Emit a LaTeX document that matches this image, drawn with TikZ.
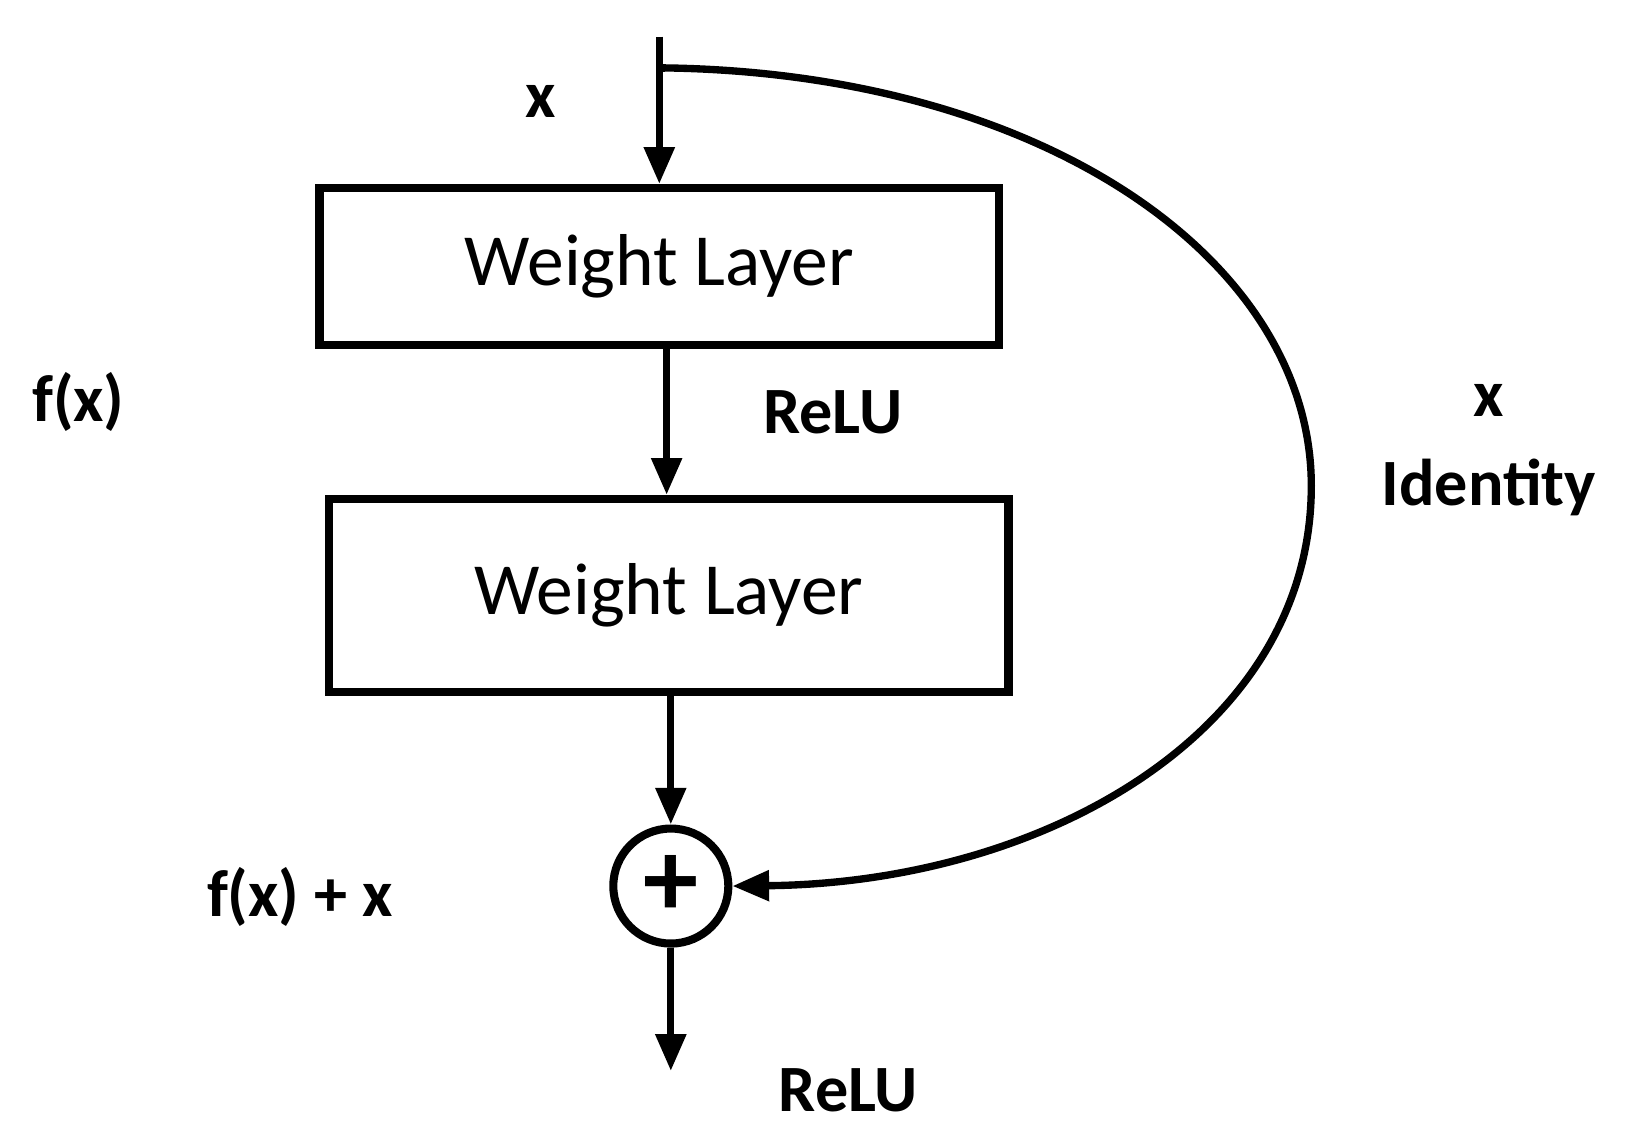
\documentclass[tikz,border=0pt]{standalone}
\usepackage{fontspec}
\setmainfont{Carlito}
\usetikzlibrary{arrows.meta}
\begin{document}
\begin{tikzpicture}[x=0.01cm,y=-0.01cm,
  box/.style={draw,line width=2.2pt,inner sep=0pt,font=\fontsize{20}{24}\selectfont},
  lbl/.style={font=\bfseries\fontsize{18}{22}\selectfont,inner sep=0pt},
  arr/.style={line width=2pt,-{Triangle[length=10pt,width=8pt]}}]
\useasboundingbox (0,0) rectangle (1560,1086);
\node[box,minimum width=6.50cm,minimum height=1.50cm] (w1) at (631,255) {Weight Layer};
\node[box,minimum width=6.50cm,minimum height=1.85cm] (w2) at (640,570) {Weight Layer};
\node[draw,circle,line width=2.2pt,minimum size=1.10cm,inner sep=0pt,font=\bfseries\fontsize{30}{30}\selectfont] (p) at (642,848) {+};
\coordinate (in) at (631,35);
\coordinate (s) at (636,65);
\coordinate (out) at (642,1025);
\draw[arr] (in) -- (in |- w1.north);
\draw[arr] (w1.south -| 638,0) -- (w2.north -| 638,0);
\draw[arr] (w2.south -| p) -- (p.north);
\draw[arr] (p.south) -- (out);
\draw[line width=2.2pt] (in |- s) -- (s);
\draw[arr] (s) .. controls (1000,70) and (1255,250) .. (1255,465) .. controls (1255,700) and (1000,845) .. (p.east);
\node[lbl] (lx) at (517,97) {x};
\node[lbl] (lf) at (75,385) {f(x)};
\node[lbl] (lr1) at (797,395) {ReLU};
\node[lbl] (lx2) at (1425,383) {x};
\node[lbl] (lid) at (1425,467) {Identity};
\node[lbl] (lfx) at (287,858) {f(x) + x};
\node[lbl] (lr2) at (812,1043) {ReLU};
\end{tikzpicture}
\end{document}
